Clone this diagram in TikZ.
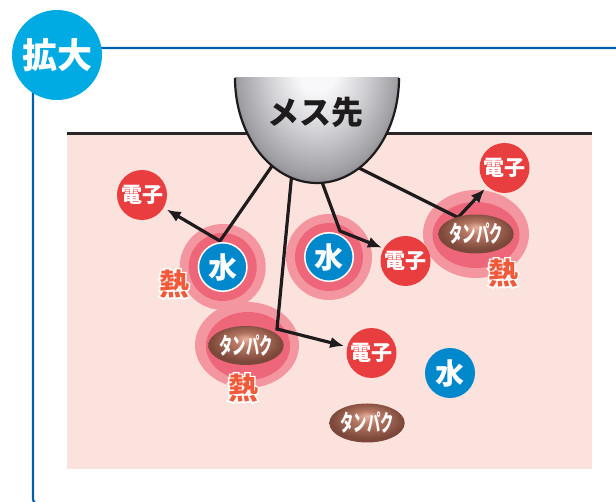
\documentclass[tikz,border=0pt]{standalone}
\usepackage{fontspec}
\usepackage{graphicx}
\usetikzlibrary{arrows.meta,shapes.geometric}
\newfontfamily\jpfont{Noto Sans CJK JP}
% emboldened face, used for the white rim behind the heat labels
\newfontfamily\jprim{Noto Sans CJK JP}[BoldFeatures={FakeBold=10}]

% palette
\definecolor{frameblue}{RGB}{0,95,175}
\definecolor{badgecyan}{RGB}{0,170,226}
\definecolor{tissue}{RGB}{252,226,221}
\definecolor{tissueedge}{RGB}{40,38,38}
\definecolor{haloouter}{RGB}{244,150,160}
\definecolor{haloinner}{RGB}{238,102,122}
\definecolor{denshired}{RGB}{232,62,64}
\definecolor{mizublue}{RGB}{0,136,204}
\definecolor{netsu}{RGB}{240,90,58}
\definecolor{wirecol}{RGB}{30,27,28}
\definecolor{probelight}{RGB}{248,248,250}
\definecolor{probemid}{RGB}{208,208,212}
\definecolor{probeedge}{RGB}{160,160,165}
\definecolor{probedark}{RGB}{118,118,124}
\definecolor{tplight}{RGB}{230,178,158}
\definecolor{tpmid}{RGB}{180,118,98}
\definecolor{tpdark}{RGB}{124,72,58}

% shadings for the scalpel tip and the protein blobs
\pgfdeclareradialshading{probeshade}{\pgfpoint{0bp}{3bp}}{%
  color(0bp)=(probelight); color(6bp)=(probelight); color(15bp)=(probemid);
  color(24bp)=(probeedge); color(29bp)=(probedark); color(40bp)=(probedark)}
\pgfdeclareradialshading{tanpakushade}{\pgfpoint{0bp}{9bp}}{%
  color(0bp)=(tplight); color(9bp)=(tpmid); color(24bp)=(tpdark);
  color(40bp)=(tpdark)}

% heat label: white emboldened copy under the coloured glyph
\newcommand\edged[1]{\leavevmode
  \rlap{\textcolor{white}{\jprim\bfseries #1}}#1}
\newcommand\tpk{\scalebox{0.58}[1]{タンパク}}

\tikzset{
  wire/.style={draw=wirecol, line width=3.2pt, line join=miter,
    -{Latex[length=14pt,width=11.5pt]}},
}

\begin{document}
\begin{tikzpicture}[x=1pt,y=-1pt,
  denshi/.style={circle, fill=denshired, minimum size=50pt, inner sep=0pt,
    text=white, font=\jpfont\bfseries\fontsize{21}{21}\selectfont},
  mizu/.style={circle, fill=mizublue, minimum size=50pt, inner sep=0pt,
    text=white, font=\jpfont\bfseries\fontsize{29}{29}\selectfont},
  mizuring/.style={mizu, draw=white, line width=1.5pt, minimum size=48.5pt},
  tanpaku/.style={ellipse, shading=tanpakushade, minimum width=66pt,
    minimum height=39pt, inner sep=0pt, text=white,
    font=\jpfont\bfseries\fontsize{23}{23}\selectfont},
  netsulabel/.style={inner sep=0pt, text=netsu,
    font=\jpfont\bfseries\fontsize{30}{30}\selectfont},
]
\useasboundingbox (0,0) rectangle (616,502);

% enlarged-view frame
\draw[frameblue, line width=2.2pt, rounded corners=4pt]
  (650,48) -- (33,48) -- (33,503.5) -- (650,503.5);
% tissue block
\fill[tissue] (67,133.3) rectangle (592,469);
\draw[tissueedge, line width=2.6pt] (67,133.3) -- (592,133.3);
% heat halos
\foreach \cx/\cy in {222.7/267, 329/257} {
  \fill[haloouter] (\cx,\cy) circle (43);
  \fill[haloinner] (\cx,\cy) circle (34);
}
\fill[haloouter] (247,345) ellipse [x radius=52, y radius=43];
\fill[haloinner] (248,346) ellipse [x radius=42, y radius=34];
\fill[haloouter] (476,234) ellipse [x radius=53, y radius=44];
\fill[haloinner] (476,235) ellipse [x radius=43.5, y radius=33];

\node[circle, fill=badgecyan, minimum size=90pt, inner sep=0pt, text=white,
  font=\jpfont\bfseries\fontsize{35}{35}\selectfont] (badge) at (57,55) {拡大};

% current paths from the tip, bending at a molecule and releasing an electron
\coordinate (s1) at (274.3,162.7);
\coordinate (s2) at (291.4,178);
\coordinate (s3) at (320.6,178.2);
\coordinate (s4) at (355.4,166.2);
\coordinate (b1) at (220,241);
\coordinate (b2) at (277,329);
\coordinate (b3) at (340,231);
\coordinate (b4) at (458,217.5);
% the electrons are placed first so the paths can end on them
\node[denshi] (e1) at (142,195) {電子};
\node[denshi] (e2) at (371.5,353) {電子};
\node[denshi] (e3) at (405.5,261) {電子};
\node[denshi] (e4) at (504.5,168) {電子};
\draw[wire, shorten >=3.5pt] (s1) -- (b1) -- (e1);
\draw[wire, shorten >=3pt] (s2) -- (b2) -- (e2);
\draw[wire, shorten >=2pt] (s3) -- (b3) -- (e3.150);
\draw[wire, shorten >=3.5pt] (s4) -- (b4) -- (e4);

% scalpel tip
\begin{scope}
  \clip (220,78) rectangle (420,200);
  \shade[shading=probeshade] (317,78) ellipse [x radius=82, y radius=105];
\end{scope}
\draw[wirecol, line width=2.2pt] (235,78) arc[start angle=180, end angle=0,
  x radius=82, y radius=105];
\node[text=wirecol, font=\jpfont\bfseries\fontsize{32}{32}\selectfont]
  (probe) at (315,112) {メス先};

% molecules and heat labels
\node[mizuring] (w1) at (222.7,267) {水};
\node[mizuring] (w2) at (329,257) {水};
\node[mizu] (w3) at (450,373) {水};
\node[tanpaku] (t1) at (246,345.5) {\tpk};
\node[tanpaku] (t2) at (476,234) {\tpk};
\node[tanpaku] (t3) at (367,423) {\tpk};
\node[netsulabel] (h1) at (174,284) {\edged{熱}};
\node[netsulabel] (h2) at (243,388) {\edged{熱}};
\node[netsulabel] (h3) at (503,273) {\edged{熱}};
\end{tikzpicture}
\end{document}
